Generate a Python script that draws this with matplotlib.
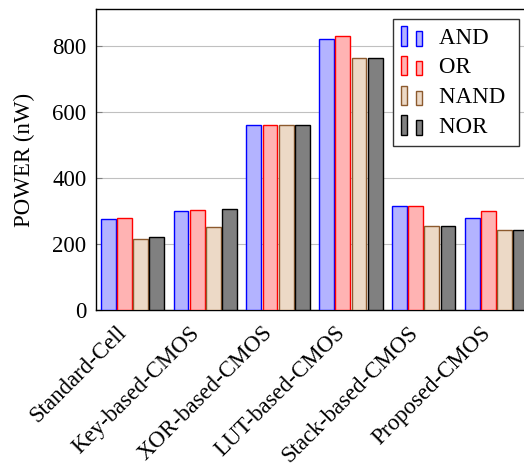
import matplotlib.pyplot as plt
import matplotlib.transforms as mtransforms
import numpy as np
from matplotlib.legend_handler import HandlerBase
from matplotlib.patches import Rectangle

plt.rcParams['font.family'] = ['Liberation Serif', 'DejaVu Serif']

designs = ['Standard-Cell', 'Key-based-CMOS', 'XOR-based-CMOS',
           'LUT-based-CMOS', 'Stack-based-CMOS', 'Proposed-CMOS']
gates = ['AND', 'OR', 'NAND', 'NOR']
power_and = [275, 301, 560, 820, 315, 280]
power_or = [278, 303, 560, 830, 315, 300]
power_nand = [216, 252, 560, 765, 255, 242]
power_nor = [220, 306, 560, 765, 255, 242]

fills = ['#b3b3ff', '#ffb3b3', '#ecd9c6', '#808080']
edges = ['#0000ff', '#ff0000', '#8c5a2e', '#000000']
fs = 16.5


class TwoBarHandler(HandlerBase):
    # ybar legend image: a tall and a short little bar
    def create_artists(self, legend, orig_handle, xdescent, ydescent,
                       width, height, fontsize, trans):
        fc = orig_handle.get_facecolor()
        ec = orig_handle.get_edgecolor()
        w = width * 0.29
        y0 = -ydescent - height * 0.1
        h = height * 1.15
        r1 = Rectangle((-xdescent, y0), w, h, facecolor=fc, edgecolor=ec,
                       lw=1.0, transform=trans)
        r2 = Rectangle((-xdescent + width * 0.71, y0), w, h * 0.74,
                       facecolor=fc, edgecolor=ec, lw=1.0, transform=trans)
        return [r1, r2]


fig = plt.figure(figsize=(5.24, 4.66), dpi=100)
ax = fig.add_axes([0.1832, 0.3348, 0.834, 0.6452])

x = np.arange(len(designs))
bw = 0.205
series = [power_and, power_or, power_nand, power_nor]
for k, vals in enumerate(series):
    ax.bar(x + (k - 1.5) * 0.222, vals, bw, color=fills[k],
           edgecolor=edges[k], linewidth=1.0, zorder=3)

ax.set_xlim(-0.5, 5.5)
ax.set_ylim(0, 911)
ax.set_yticks([0, 200, 400, 600, 800])
ax.yaxis.grid(True, color='#c0c0c0', lw=0.8, zorder=0)
ax.set_axisbelow(True)
ax.tick_params(axis='y', direction='in', length=4, labelsize=fs,
               color='#808080', pad=7)
ax.tick_params(axis='x', length=0, labelsize=fs, pad=16)
ax.set_xticks(x)
ax.set_xticklabels(designs, rotation=45, ha='right', va='center',
                   rotation_mode='anchor')
shift = mtransforms.ScaledTranslation(-0.09, 0.025, fig.dpi_scale_trans)
for lbl in ax.get_xticklabels():
    lbl.set_transform(lbl.get_transform() + shift)
ax.set_ylabel('POWER (nW)', fontsize=fs, labelpad=12)
for s in ax.spines.values():
    s.set_linewidth(1.0)

proxies = [Rectangle((0, 0), 1, 1, facecolor=fills[k], edgecolor=edges[k])
           for k in range(4)]
leg = ax.legend(proxies, [g + ' ' for g in gates], loc='upper right',
                bbox_to_anchor=(0.968, 0.967),
                fontsize=fs, handler_map={Rectangle: TwoBarHandler()},
                handlelength=0.92, handleheight=0.75, handletextpad=0.75,
                labelspacing=0.36, borderpad=0.35, borderaxespad=0,
                fancybox=False, edgecolor='#333333', framealpha=1.0)
leg.get_frame().set_linewidth(1.0)

fig.savefig('out.png', dpi=100)
